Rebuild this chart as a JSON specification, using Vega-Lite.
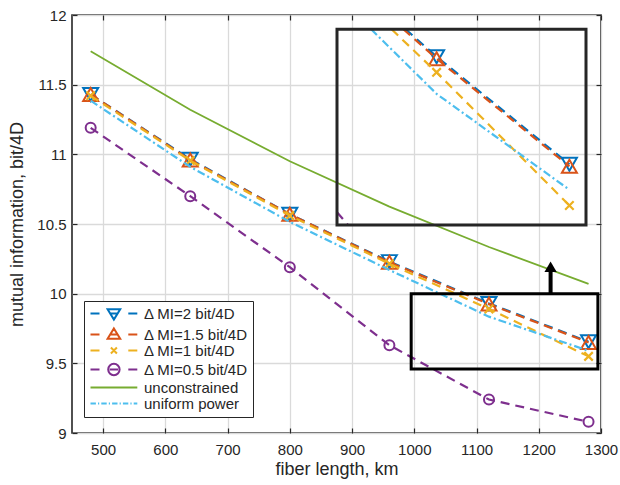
{
  "$schema": "https://vega.github.io/schema/vega-lite/v6.json",
  "width": 529,
  "height": 418,
  "autosize": {"type": "none"},
  "padding": {"left": 72, "top": 15, "right": 19, "bottom": 52},
  "background": "white",
  "config": {
    "font": "Liberation Sans",
    "view": {"stroke": "#262626", "strokeWidth": 1.6},
    "axis": {
      "domain": false,
      "labelFont": "Liberation Sans",
      "labelFontSize": 15,
      "labelColor": "#262626",
      "titleFont": "Liberation Sans",
      "titleFontSize": 18,
      "titleFontWeight": "normal",
      "titleColor": "#262626",
      "tickColor": "#262626",
      "tickSize": -5,
      "tickWidth": 1.2,
      "gridColor": "#dadada",
      "gridWidth": 1.3,
      "labelFlush": false
    }
  },
  "datasets": {
    "main": [
      {"series": "Δ MI=2 bit/4D", "x": 480, "y": 11.43},
      {"series": "Δ MI=2 bit/4D", "x": 640, "y": 10.965},
      {"series": "Δ MI=2 bit/4D", "x": 800, "y": 10.57},
      {"series": "Δ MI=2 bit/4D", "x": 960, "y": 10.23},
      {"series": "Δ MI=2 bit/4D", "x": 1120, "y": 9.93},
      {"series": "Δ MI=2 bit/4D", "x": 1280, "y": 9.655},
      {"series": "Δ MI=1.5 bit/4D", "x": 480, "y": 11.43},
      {"series": "Δ MI=1.5 bit/4D", "x": 640, "y": 10.96},
      {"series": "Δ MI=1.5 bit/4D", "x": 800, "y": 10.57},
      {"series": "Δ MI=1.5 bit/4D", "x": 960, "y": 10.225},
      {"series": "Δ MI=1.5 bit/4D", "x": 1120, "y": 9.925},
      {"series": "Δ MI=1.5 bit/4D", "x": 1280, "y": 9.65},
      {"series": "Δ MI=1 bit/4D", "x": 480, "y": 11.42},
      {"series": "Δ MI=1 bit/4D", "x": 640, "y": 10.955},
      {"series": "Δ MI=1 bit/4D", "x": 800, "y": 10.56},
      {"series": "Δ MI=1 bit/4D", "x": 960, "y": 10.215},
      {"series": "Δ MI=1 bit/4D", "x": 1120, "y": 9.89},
      {"series": "Δ MI=1 bit/4D", "x": 1280, "y": 9.55},
      {"series": "Δ MI=0.5 bit/4D", "x": 480, "y": 11.19},
      {"series": "Δ MI=0.5 bit/4D", "x": 640, "y": 10.7},
      {"series": "Δ MI=0.5 bit/4D", "x": 800, "y": 10.19},
      {"series": "Δ MI=0.5 bit/4D", "x": 960, "y": 9.63},
      {"series": "Δ MI=0.5 bit/4D", "x": 1120, "y": 9.24},
      {"series": "Δ MI=0.5 bit/4D", "x": 1280, "y": 9.08},
      {"series": "unconstrained", "x": 480, "y": 11.74},
      {"series": "unconstrained", "x": 640, "y": 11.32},
      {"series": "unconstrained", "x": 800, "y": 10.95},
      {"series": "unconstrained", "x": 960, "y": 10.625},
      {"series": "unconstrained", "x": 1120, "y": 10.335},
      {"series": "unconstrained", "x": 1280, "y": 10.07},
      {"series": "uniform power", "x": 480, "y": 11.385},
      {"series": "uniform power", "x": 640, "y": 10.91},
      {"series": "uniform power", "x": 800, "y": 10.515},
      {"series": "uniform power", "x": 960, "y": 10.17},
      {"series": "uniform power", "x": 1120, "y": 9.835},
      {"series": "uniform power", "x": 1280, "y": 9.59}
    ],
    "inset": [
      {"series": "Δ MI=2 bit/4D", "x": 1082.7, "y": 10},
      {"series": "Δ MI=2 bit/4D", "x": 1120, "y": 9.93},
      {"series": "Δ MI=2 bit/4D", "x": 1280, "y": 9.655},
      {"series": "Δ MI=1.5 bit/4D", "x": 1080, "y": 10},
      {"series": "Δ MI=1.5 bit/4D", "x": 1120, "y": 9.925},
      {"series": "Δ MI=1.5 bit/4D", "x": 1280, "y": 9.65},
      {"series": "Δ MI=1 bit/4D", "x": 1065.8, "y": 10},
      {"series": "Δ MI=1 bit/4D", "x": 1120, "y": 9.89},
      {"series": "Δ MI=1 bit/4D", "x": 1280, "y": 9.55},
      {"series": "Δ MI=0.5 bit/4D", "x": 1000, "y": 9.5325},
      {"series": "Δ MI=0.5 bit/4D", "x": 1013.3, "y": 9.5},
      {"series": "uniform power", "x": 1041.2, "y": 10},
      {"series": "uniform power", "x": 1120, "y": 9.835},
      {"series": "uniform power", "x": 1280, "y": 9.59}
    ],
    "insetMarks": [
      {"series": "Δ MI=2 bit/4D", "x": 1120, "y": 9.93},
      {"series": "Δ MI=2 bit/4D", "x": 1280, "y": 9.655},
      {"series": "Δ MI=1.5 bit/4D", "x": 1120, "y": 9.925},
      {"series": "Δ MI=1.5 bit/4D", "x": 1280, "y": 9.65},
      {"series": "Δ MI=1 bit/4D", "x": 1120, "y": 9.89},
      {"series": "Δ MI=1 bit/4D", "x": 1280, "y": 9.55}
    ],
    "zoombox": [{"x0": 995, "x1": 1295, "y0": 9.46, "y1": 10.0}],
    "insetbox": [{"x0": 1000, "x1": 1300, "y0": 9.5, "y1": 10.0}],
    "arrow": [{"x": 1219, "y0": 10.0, "y1": 10.165, "yh": 10.193}],
    "legend": [
      {"series": "Δ MI=2 bit/4D"},
      {"series": "Δ MI=1.5 bit/4D"},
      {"series": "Δ MI=1 bit/4D"},
      {"series": "Δ MI=0.5 bit/4D"},
      {"series": "unconstrained"},
      {"series": "uniform power"}
    ]
  },
  "layer": [
    {
      "layer": [
        {
          "data": {"name": "main"},
          "transform": [{"filter": {"field": "series", "equal": "Δ MI=2 bit/4D"}}],
          "mark": {"type": "line", "strokeWidth": 2.2, "color": "#0072BD", "strokeDash": [9, 6]},
          "encoding": {
            "x": {
              "field": "x", "type": "quantitative",
              "scale": {"domain": [450, 1300], "nice": false, "zero": false},
              "axis": {"orient": "bottom", "title": "fiber length, km", "values": [500, 600, 700, 800, 900, 1000, 1100, 1200, 1300], "format": "d", "grid": true, "labelPadding": 14, "titlePadding": 3}
            },
            "y": {
              "field": "y", "type": "quantitative",
              "scale": {"domain": [9, 12], "nice": false, "zero": false},
              "axis": {"orient": "left", "title": "mutual information, bit/4D", "values": [9, 9.5, 10, 10.5, 11, 11.5, 12], "format": "~g", "grid": true, "labelPadding": 11, "titlePadding": 10}
            }
          }
        },
        {
          "data": {"name": "main"},
          "transform": [{"filter": {"field": "series", "equal": "Δ MI=2 bit/4D"}}],
          "mark": {"type": "point", "shape": "triangle-down", "size": 225, "filled": false, "strokeWidth": 2, "opacity": 1, "color": "#0072BD"},
          "encoding": {
            "x": {"field": "x", "type": "quantitative", "axis": null},
            "y": {"field": "y", "type": "quantitative", "axis": null}
          }
        },
        {
          "data": {"name": "main"},
          "transform": [{"filter": {"field": "series", "equal": "Δ MI=1.5 bit/4D"}}],
          "mark": {"type": "line", "strokeWidth": 2.2, "color": "#D95319", "strokeDash": [9, 6]},
          "encoding": {
            "x": {"field": "x", "type": "quantitative", "axis": null},
            "y": {"field": "y", "type": "quantitative", "axis": null}
          }
        },
        {
          "data": {"name": "main"},
          "transform": [{"filter": {"field": "series", "equal": "Δ MI=1.5 bit/4D"}}],
          "mark": {"type": "point", "shape": "triangle-up", "size": 225, "filled": false, "strokeWidth": 2, "opacity": 1, "color": "#D95319"},
          "encoding": {
            "x": {"field": "x", "type": "quantitative", "axis": null},
            "y": {"field": "y", "type": "quantitative", "axis": null}
          }
        },
        {
          "data": {"name": "main"},
          "transform": [{"filter": {"field": "series", "equal": "Δ MI=1 bit/4D"}}],
          "mark": {"type": "line", "strokeWidth": 2.2, "color": "#EDB120", "strokeDash": [9, 6]},
          "encoding": {
            "x": {"field": "x", "type": "quantitative", "axis": null},
            "y": {"field": "y", "type": "quantitative", "axis": null}
          }
        },
        {
          "data": {"name": "main"},
          "transform": [{"filter": {"field": "series", "equal": "Δ MI=1 bit/4D"}}],
          "mark": {"type": "point", "shape": "M-1,-1L1,1M-1,1L1,-1", "size": 72, "filled": false, "strokeWidth": 2.2, "opacity": 1, "color": "#EDB120"},
          "encoding": {
            "x": {"field": "x", "type": "quantitative", "axis": null},
            "y": {"field": "y", "type": "quantitative", "axis": null}
          }
        },
        {
          "data": {"name": "main"},
          "transform": [{"filter": {"field": "series", "equal": "Δ MI=0.5 bit/4D"}}],
          "mark": {"type": "line", "strokeWidth": 2.2, "color": "#7E2F8E", "strokeDash": [9, 6]},
          "encoding": {
            "x": {"field": "x", "type": "quantitative", "axis": null},
            "y": {"field": "y", "type": "quantitative", "axis": null}
          }
        },
        {
          "data": {"name": "main"},
          "transform": [{"filter": {"field": "series", "equal": "Δ MI=0.5 bit/4D"}}],
          "mark": {"type": "point", "shape": "circle", "size": 100, "filled": false, "strokeWidth": 2, "opacity": 1, "color": "#7E2F8E"},
          "encoding": {
            "x": {"field": "x", "type": "quantitative", "axis": null},
            "y": {"field": "y", "type": "quantitative", "axis": null}
          }
        },
        {
          "data": {"name": "main"},
          "transform": [{"filter": {"field": "series", "equal": "unconstrained"}}],
          "mark": {"type": "line", "strokeWidth": 1.8, "color": "#77AC30"},
          "encoding": {
            "x": {"field": "x", "type": "quantitative", "axis": null},
            "y": {"field": "y", "type": "quantitative", "axis": null}
          }
        },
        {
          "data": {"name": "main"},
          "transform": [{"filter": {"field": "series", "equal": "uniform power"}}],
          "mark": {"type": "line", "strokeWidth": 2.2, "color": "#4DBEEE", "strokeDash": [8, 3, 2, 3]},
          "encoding": {
            "x": {"field": "x", "type": "quantitative", "axis": null},
            "y": {"field": "y", "type": "quantitative", "axis": null}
          }
        },
        {
          "data": {"name": "zoombox"},
          "mark": {"type": "rect", "filled": false, "stroke": "#000000", "strokeWidth": 3},
          "encoding": {
            "x": {"field": "x0", "type": "quantitative", "axis": {"orient": "top", "labels": false, "title": null, "grid": false, "values": [500, 600, 700, 800, 900, 1000, 1100, 1200, 1300]}},
            "x2": {"field": "x1"},
            "y": {"field": "y0", "type": "quantitative", "axis": {"orient": "right", "labels": false, "title": null, "grid": false, "values": [9, 9.5, 10, 10.5, 11, 11.5, 12]}},
            "y2": {"field": "y1"}
          }
        },
        {
          "data": {"name": "arrow"},
          "mark": {"type": "rule", "color": "#000000", "strokeWidth": 4},
          "encoding": {
            "x": {"field": "x", "type": "quantitative", "axis": null},
            "y": {"field": "y0", "type": "quantitative", "axis": null},
            "y2": {"field": "y1"}
          }
        },
        {
          "data": {"name": "arrow"},
          "mark": {"type": "point", "shape": "triangle-up", "size": 150, "filled": true, "opacity": 1, "color": "#000000"},
          "encoding": {
            "x": {"field": "x", "type": "quantitative", "axis": null},
            "y": {"field": "yh", "type": "quantitative", "axis": null}
          }
        },
        {
          "data": {"name": "legend"},
          "mark": {"type": "point", "filled": false, "opacity": 1, "strokeWidth": 2, "invalid": "filter"},
          "encoding": {
            "x": {"field": "x", "type": "quantitative", "axis": null},
            "y": {"field": "y", "type": "quantitative", "axis": null},
            "color": {
              "field": "series", "type": "nominal",
              "scale": {
                "domain": ["Δ MI=2 bit/4D", "Δ MI=1.5 bit/4D", "Δ MI=1 bit/4D", "Δ MI=0.5 bit/4D", "unconstrained", "uniform power"],
                "range": ["#0072BD", "#D95319", "#EDB120", "#7E2F8E", "#77AC30", "#4DBEEE"]
              },
              "legend": {"title": null, "orient": "none", "legendX": 12, "legendY": 286, "strokeColor": "#262626", "fillColor": "white", "padding": 5, "symbolSize": 144, "symbolStrokeWidth": 2, "labelFont": "Liberation Sans", "labelFontSize": 15, "labelColor": "#262626", "labelOffset": 40, "rowPadding": 0}
            },
            "shape": {
              "field": "series", "type": "nominal",
              "scale": {
                "domain": ["Δ MI=2 bit/4D", "Δ MI=1.5 bit/4D", "Δ MI=1 bit/4D", "Δ MI=0.5 bit/4D", "unconstrained", "uniform power"],
                "range": [
                  "M-1,0L0.5,0M2.2,0L3.6,0M5.3,0L6.8,0M1.85,-0.7L3.95,-0.7L2.9,1.0Z",
                  "M-1,0L0.5,0M2.2,0L3.6,0M5.3,0L6.8,0M2.9,-1.0L3.95,0.7L1.85,0.7Z",
                  "M-1,0L0.5,0M5.3,0L6.8,0M2.4,-0.5L3.4,0.5M2.4,0.5L3.4,-0.5",
                  "M-1,0L0.5,0M2.2,0L3.6,0M5.3,0L6.8,0M3.85,0A0.95,0.95,0,1,1,1.95,0A0.95,0.95,0,1,1,3.85,0",
                  "M-1,0L6.8,0",
                  "M-1,0L-0.1,0M0.25,0L0.45,0M0.8,0L1.7,0M2.05,0L2.25,0M2.6,0L3.5,0M3.85,0L4.05,0M4.4,0L5.3,0M5.65,0L5.85,0M6.2,0L6.8,0"
                ]
              },
              "legend": {"title": null, "orient": "none", "legendX": 12, "legendY": 286, "strokeColor": "#262626", "fillColor": "white", "padding": 5, "symbolSize": 144, "symbolStrokeWidth": 2, "labelFont": "Liberation Sans", "labelFontSize": 15, "labelColor": "#262626", "labelOffset": 40, "rowPadding": 0}
            }
          }
        }
      ],
      "resolve": {"axis": {"x": "independent", "y": "independent"}}
    },
    {
      "layer": [
        {
          "data": {"name": "inset"},
          "transform": [{"filter": {"field": "series", "equal": "Δ MI=2 bit/4D"}}],
          "mark": {"type": "line", "strokeWidth": 2.2, "color": "#0072BD", "strokeDash": [9, 6]},
          "encoding": {
            "x": {"field": "x", "type": "quantitative", "scale": {"domain": [1000, 1300], "range": [265, 514], "nice": false, "zero": false}, "axis": null},
            "y": {"field": "y", "type": "quantitative", "scale": {"domain": [9.5, 10], "range": [210, 14.3], "nice": false, "zero": false}, "axis": null}
          }
        },
        {
          "data": {"name": "insetMarks"},
          "transform": [{"filter": {"field": "series", "equal": "Δ MI=2 bit/4D"}}],
          "mark": {"type": "point", "shape": "triangle-down", "size": 225, "filled": false, "strokeWidth": 2, "opacity": 1, "color": "#0072BD"},
          "encoding": {
            "x": {"field": "x", "type": "quantitative", "axis": null},
            "y": {"field": "y", "type": "quantitative", "axis": null}
          }
        },
        {
          "data": {"name": "inset"},
          "transform": [{"filter": {"field": "series", "equal": "Δ MI=1.5 bit/4D"}}],
          "mark": {"type": "line", "strokeWidth": 2.2, "color": "#D95319", "strokeDash": [9, 6]},
          "encoding": {
            "x": {"field": "x", "type": "quantitative", "axis": null},
            "y": {"field": "y", "type": "quantitative", "axis": null}
          }
        },
        {
          "data": {"name": "insetMarks"},
          "transform": [{"filter": {"field": "series", "equal": "Δ MI=1.5 bit/4D"}}],
          "mark": {"type": "point", "shape": "triangle-up", "size": 225, "filled": false, "strokeWidth": 2, "opacity": 1, "color": "#D95319"},
          "encoding": {
            "x": {"field": "x", "type": "quantitative", "axis": null},
            "y": {"field": "y", "type": "quantitative", "axis": null}
          }
        },
        {
          "data": {"name": "inset"},
          "transform": [{"filter": {"field": "series", "equal": "Δ MI=1 bit/4D"}}],
          "mark": {"type": "line", "strokeWidth": 2.2, "color": "#EDB120", "strokeDash": [9, 6]},
          "encoding": {
            "x": {"field": "x", "type": "quantitative", "axis": null},
            "y": {"field": "y", "type": "quantitative", "axis": null}
          }
        },
        {
          "data": {"name": "insetMarks"},
          "transform": [{"filter": {"field": "series", "equal": "Δ MI=1 bit/4D"}}],
          "mark": {"type": "point", "shape": "M-1,-1L1,1M-1,1L1,-1", "size": 72, "filled": false, "strokeWidth": 2.2, "opacity": 1, "color": "#EDB120"},
          "encoding": {
            "x": {"field": "x", "type": "quantitative", "axis": null},
            "y": {"field": "y", "type": "quantitative", "axis": null}
          }
        },
        {
          "data": {"name": "inset"},
          "transform": [{"filter": {"field": "series", "equal": "Δ MI=0.5 bit/4D"}}],
          "mark": {"type": "line", "strokeWidth": 2.2, "color": "#7E2F8E", "strokeDash": [9, 6]},
          "encoding": {
            "x": {"field": "x", "type": "quantitative", "axis": null},
            "y": {"field": "y", "type": "quantitative", "axis": null}
          }
        },
        {
          "data": {"name": "inset"},
          "transform": [{"filter": {"field": "series", "equal": "uniform power"}}],
          "mark": {"type": "line", "strokeWidth": 2.2, "color": "#4DBEEE", "strokeDash": [8, 3, 2, 3]},
          "encoding": {
            "x": {"field": "x", "type": "quantitative", "axis": null},
            "y": {"field": "y", "type": "quantitative", "axis": null}
          }
        },
        {
          "data": {"name": "insetbox"},
          "mark": {"type": "rect", "filled": false, "stroke": "#262626", "strokeWidth": 3},
          "encoding": {
            "x": {"field": "x0", "type": "quantitative", "axis": null},
            "x2": {"field": "x1"},
            "y": {"field": "y0", "type": "quantitative", "axis": null},
            "y2": {"field": "y1"}
          }
        }
      ]
    }
  ],
  "resolve": {"scale": {"x": "independent", "y": "independent"}}
}
